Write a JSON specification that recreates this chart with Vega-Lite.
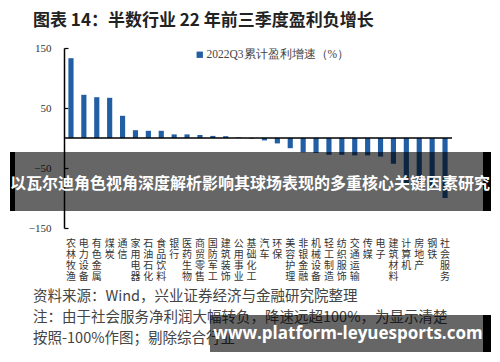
{
  "$schema": "https://vega.github.io/schema/vega-lite/v6.json",
  "width": 388,
  "height": 180,
  "autosize": {"type": "none"},
  "padding": {"left": 64, "top": 48, "right": 48, "bottom": 134},
  "background": "white",
  "config": {"view": {"stroke": null}, "font": "Noto Sans CJK SC"},
  "data": {
    "values": [
      {"industry": "农林牧渔", "value": 133},
      {"industry": "电力设备", "value": 72},
      {"industry": "有色金属", "value": 68},
      {"industry": "煤炭", "value": 67},
      {"industry": "通信", "value": 37},
      {"industry": "家用电器", "value": 13},
      {"industry": "石油石化", "value": 12},
      {"industry": "食品饮料", "value": 12},
      {"industry": "银行", "value": 6},
      {"industry": "医药生物", "value": 6},
      {"industry": "商贸零售", "value": 5},
      {"industry": "国防军工", "value": 3.5},
      {"industry": "建筑装饰", "value": 3},
      {"industry": "公用事业", "value": 1},
      {"industry": "基础化工", "value": -1},
      {"industry": "汽车", "value": -4},
      {"industry": "环保", "value": -9},
      {"industry": "美容护理", "value": -17},
      {"industry": "非银金融", "value": -24},
      {"industry": "机械设备", "value": -25},
      {"industry": "轻工制造", "value": -28},
      {"industry": "纺织服饰", "value": -28},
      {"industry": "交通运输", "value": -29},
      {"industry": "传媒", "value": -29},
      {"industry": "电子", "value": -31},
      {"industry": "建筑材料", "value": -43},
      {"industry": "计算机", "value": -76},
      {"industry": "房地产", "value": -79},
      {"industry": "钢铁", "value": -82},
      {"industry": "社会服务", "value": -100}
    ]
  },
  "layer": [
    {
      "mark": {"type": "bar"},
      "encoding": {
        "x": {
          "field": "industry",
          "type": "nominal",
          "sort": null,
          "scale": {"paddingInner": 0.6, "paddingOuter": 0.34},
          "axis": {
            "title": null,
            "domain": false,
            "ticks": false,
            "labelAngle": 0,
            "labelOverlap": false,
            "labelExpr": "split(datum.label, '')",
            "labelLineHeight": 11,
            "labelBaseline": "top",
            "labelPadding": 10,
            "labelFontSize": 10,
            "labelColor": "#333",
            "labelFont": "Noto Sans CJK SC"
          }
        },
        "y": {
          "field": "value",
          "type": "quantitative",
          "scale": {"domain": [-150, 150], "nice": false},
          "axis": {
            "values": [-150, -100, -50, 0, 50, 100, 150],
            "title": null,
            "grid": false,
            "domainColor": "#000",
            "domainWidth": 1.5,
            "tickColor": "#000",
            "tickSize": -4,
            "tickWidth": 1.2,
            "labelPadding": 17,
            "labelFont": "Liberation Serif",
            "labelFontSize": 11,
            "labelColor": "#333"
          }
        },
        "color": {
          "datum": "2022Q3累计盈利增速（%）",
          "type": "nominal",
          "scale": {"range": ["#215ea3"]},
          "legend": {
            "orient": "none",
            "legendX": 130,
            "legendY": 1,
            "title": null,
            "symbolType": "square",
            "symbolSize": 40,
            "symbolStrokeWidth": 0,
            "labelOffset": 1,
            "labelFontSize": 11.5,
            "labelFont": "Liberation Serif",
            "labelColor": "#444"
          }
        }
      }
    },
    {
      "data": {"values": [{}]},
      "mark": {"type": "rule", "color": "#000", "strokeWidth": 1.5},
      "encoding": {"y": {"datum": 0}}
    },
    {
      "data": {"values": [{}]},
      "mark": {"type": "rect", "x": -49, "x2": 419, "y": 104, "y2": 163, "fill": "#000", "opacity": 0.6},
      "encoding": {}
    },
    {
      "data": {"values": [{}]},
      "mark": {"type": "rect", "x": -54, "x2": -49, "y": 104, "y2": 163, "fill": "#000"},
      "encoding": {}
    },
    {
      "data": {"values": [{}]},
      "mark": {"type": "rect", "x": 419, "x2": 427, "y": 104, "y2": 163, "fill": "#000"},
      "encoding": {}
    },
    {
      "data": {"values": [{}]},
      "mark": {"type": "text", "x": 186, "y": 135.5, "align": "center", "baseline": "middle", "fontSize": 16, "fontWeight": "bold", "fill": "#fff", "font": "Noto Sans CJK SC", "text": "以瓦尔迪角色视角深度解析影响其球场表现的多重核心关键因素研究"},
      "encoding": {}
    },
    {
      "data": {"values": [{}]},
      "mark": {"type": "text", "x": -31, "y": -27, "align": "left", "baseline": "middle", "fontSize": 17, "fontWeight": "bold", "fill": "#222", "font": "Noto Sans CJK SC", "text": "图表 14：半数行业 22 年前三季度盈利负增长"},
      "encoding": {}
    },
    {
      "data": {"values": [{}]},
      "mark": {"type": "rule", "x": -42, "x2": 394, "y": -16.5, "y2": -16.5, "stroke": "#888", "strokeWidth": 1.5},
      "encoding": {}
    },
    {
      "data": {"values": [{}]},
      "mark": {"type": "rule", "x": -42, "x2": 394, "y": 239, "y2": 239, "stroke": "#888", "strokeWidth": 1.5},
      "encoding": {}
    },
    {
      "data": {"values": [{}]},
      "mark": {"type": "text", "x": -31, "y": 249, "align": "left", "baseline": "middle", "fontSize": 14.5, "fill": "#444", "font": "Noto Sans CJK SC", "text": "资料来源：Wind，兴业证券经济与金融研究院整理"},
      "encoding": {}
    },
    {
      "data": {"values": [{}]},
      "mark": {"type": "text", "x": -31, "y": 270, "align": "left", "baseline": "middle", "fontSize": 14.5, "fill": "#444", "font": "Noto Sans CJK SC", "text": "注：由于社会服务净利润大幅转负，降速远超100%，为显示清楚"},
      "encoding": {}
    },
    {
      "data": {"values": [{}]},
      "mark": {"type": "text", "x": -31, "y": 291, "align": "left", "baseline": "middle", "fontSize": 14.5, "fill": "#444", "font": "Noto Sans CJK SC", "text": "按照-100%作图；剔除综合行业"},
      "encoding": {}
    },
    {
      "data": {"values": [{}]},
      "mark": {"type": "rect", "x": 146, "x2": 419, "y": 267, "y2": 304, "fill": "#000", "opacity": 0.6},
      "encoding": {}
    },
    {
      "data": {"values": [{}]},
      "mark": {"type": "rect", "x": 419, "x2": 427, "y": 267, "y2": 304, "fill": "#000"},
      "encoding": {}
    },
    {
      "data": {"values": [{}]},
      "mark": {"type": "text", "x": 284, "y": 286, "align": "center", "baseline": "middle", "fontSize": 17, "fontWeight": "bold", "fill": "#fff", "font": "Open Sans", "text": "www.platform-leyuesports.com"},
      "encoding": {}
    }
  ]
}
